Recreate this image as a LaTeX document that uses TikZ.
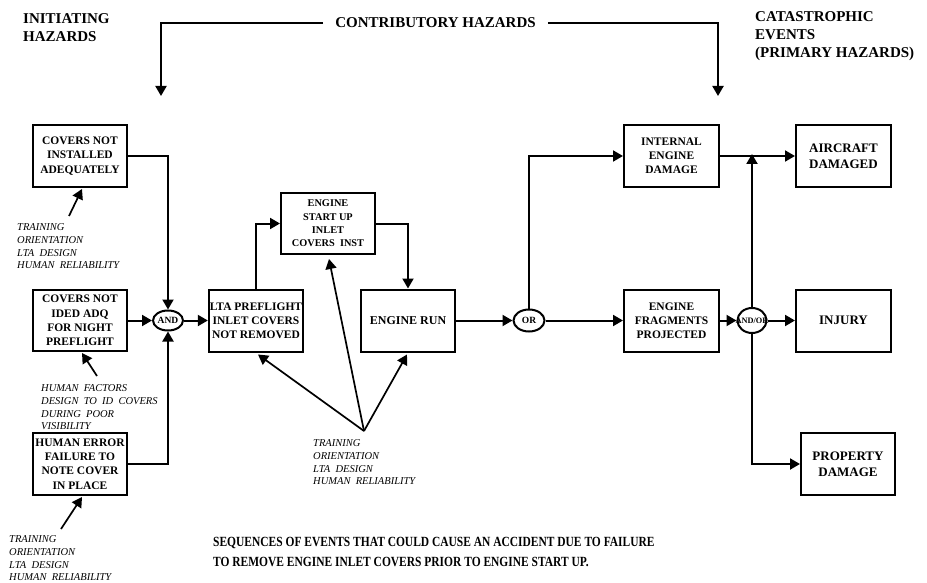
\documentclass[tikz,border=0pt]{standalone}
\usepackage{fontspec}
\usepackage{graphicx}
\setmainfont{Liberation Serif}
\usetikzlibrary{arrows.meta,shapes.geometric,calc}
\begin{document}
\begin{tikzpicture}[x=1pt,y=-1pt,
  box/.style={draw,line width=2pt,minimum width=94pt,minimum height=62pt,inner sep=1pt,align=center,font=\bfseries\fontsize{11.5}{14.2}\selectfont},
  bigbox/.style={box,font=\bfseries\fontsize{13}{16}\selectfont},
  gate/.style={draw,ellipse,line width=2pt,inner sep=0pt},
  gatelbl/.style={font=\bfseries\fontsize{9.5}{10}\selectfont,inner sep=0pt},
  arr/.style={line width=2pt,-{Triangle[length=10pt,width=11pt]}},
  narr/.style={line width=1.7pt,-{Triangle[length=10pt,width=11pt]}},
  note/.style={font=\itshape\fontsize{10.5}{12.7}\selectfont,align=left,anchor=north west,inner sep=0pt},
  head/.style={font=\bfseries\fontsize{15}{18}\selectfont,align=left,anchor=north west,inner sep=0pt}]
\useasboundingbox (0,0) rectangle (927,583);

% headers
\node[head] (h1) at (23,13) {INITIATING\\HAZARDS};
\node[font=\bfseries\fontsize{15}{18}\selectfont,inner xsep=12pt,inner ysep=0pt] (h2) at (435.5,23) {CONTRIBUTORY HAZARDS};
\node[head] (h3) at (755,11) {CATASTROPHIC\\EVENTS\\(PRIMARY HAZARDS)};
\coordinate (c1) at (161,96);
\coordinate (c2) at (718,96);
\draw[arr] (h2.west) -| (c1);
\draw[arr] (h2.east) -| (c2);

% boxes
\node[box] (b1) at (80,156) {COVERS NOT\\INSTALLED\\ADEQUATELY};
\node[box,minimum height=61pt] (b2) at (80,320.5) {COVERS NOT\\IDED ADQ\\FOR NIGHT\\PREFLIGHT};
\node[box] (b3) at (80,464) {HUMAN ERROR\\FAILURE TO\\NOTE COVER\\IN PLACE};
\node[gate,minimum width=30pt,minimum height=20pt,label={[gatelbl]center:AND}] (and) at (168,320.5) {};
\node[box] (lta) at (256,320.5) {LTA PREFLIGHT\\INLET COVERS\\NOT REMOVED};
\node[box,minimum height=61pt,font=\bfseries\fontsize{10.3}{13.3}\selectfont] (esu) at (328,223.5) {ENGINE\\START UP\\INLET\\COVERS\ \ INST};
\node[box,font=\bfseries\fontsize{12}{14}\selectfont] (er) at (408,320.5) {ENGINE RUN};
\node[gate,minimum width=31pt,minimum height=22pt,label={[gatelbl]center:OR}] (or) at (529,320.5) {};
\node[box,minimum width=95pt] (ied) at (671.5,156) {INTERNAL\\ENGINE\\DAMAGE};
\node[box,minimum width=95pt] (efp) at (671.5,320.5) {ENGINE\\FRAGMENTS\\PROJECTED};
\node[gate,minimum width=29pt,minimum height=25pt,label={[gatelbl,font=\bfseries\fontsize{8.3}{9}\selectfont]center:AND/OR}] (ao) at (752,320.5) {};
\node[bigbox,minimum width=95pt] (ad) at (843.5,156) {AIRCRAFT\\DAMAGED};
\node[bigbox,minimum width=95pt] (inj) at (843.5,320.5) {INJURY};
\node[bigbox] (pd) at (848,464) {PROPERTY\\DAMAGE};

% connectors
\draw[arr] (b1.east) -| (and.north);
\draw[arr] (b2.east) -- (and.west);
\draw[arr] (b3.east) -| (and.south);
\draw[arr] (and.east) -- (lta.west);
\draw[arr] (lta.north) |- (esu.west);
\draw[arr] (esu.east) -| (er.north);
\draw[arr] (er.east) -- (or.west);
\draw[arr] (or.north) |- (ied.west);
\draw[arr] (or.east) -- (efp.west);
\draw[arr] (ied.east) -- (ad.west);
\draw[arr] (efp.east) -- (ao.west);
\draw[arr] (ao.east) -- (inj.west);
\coordinate (j) at ($(ao.north |- ied.east)+(0,-2)$);
\draw[arr] (ao.north) -- (j);
\draw[arr] (ao.south) |- (pd.west);

% annotations
\node[note] (n1) at (17,223.5) {TRAINING\\ORIENTATION\\LTA\ \ DESIGN\\HUMAN\ \ RELIABILITY};
\coordinate (n1a) at (69,216);
\draw[narr] (n1a) -- ($(b1.south)+(2,1)$);

\node[note] (n2) at (41,384.5) {HUMAN\ \ FACTORS\\DESIGN\ \ TO\ \ ID\ \ COVERS\\DURING\ \ POOR\\VISIBILITY};
\coordinate (n2a) at (97,376);
\draw[narr] (n2a) -- ($(b2.south)+(2,1)$);

\node[note] (n3) at (9,535.5) {TRAINING\\ORIENTATION\\LTA\ \ DESIGN\\HUMAN\ \ RELIABILITY};
\coordinate (n3a) at (61,529);
\draw[narr] (n3a) -- ($(b3.south)+(2,1)$);

\node[note] (n4) at (313,439.5) {TRAINING\\ORIENTATION\\LTA\ \ DESIGN\\HUMAN\ \ RELIABILITY};
\coordinate (hub) at (364,431);
\draw[narr] (hub) -- ($(lta.south)+(2,2)$);
\draw[narr] (hub) -- ($(esu.south)+(1,4)$);
\draw[narr] (hub) -- ($(er.south)+(-1,2)$);

% caption
\node[anchor=north west,inner sep=0pt,align=left,font=\bfseries\fontsize{14}{20}\selectfont] (cap) at (213,537)
  {\scalebox{0.82}[1]{SEQUENCES OF EVENTS THAT COULD CAUSE AN ACCIDENT DUE TO FAILURE}\\
   \scalebox{0.82}[1]{TO REMOVE ENGINE INLET COVERS PRIOR TO ENGINE START UP.}};
\end{tikzpicture}
\end{document}
